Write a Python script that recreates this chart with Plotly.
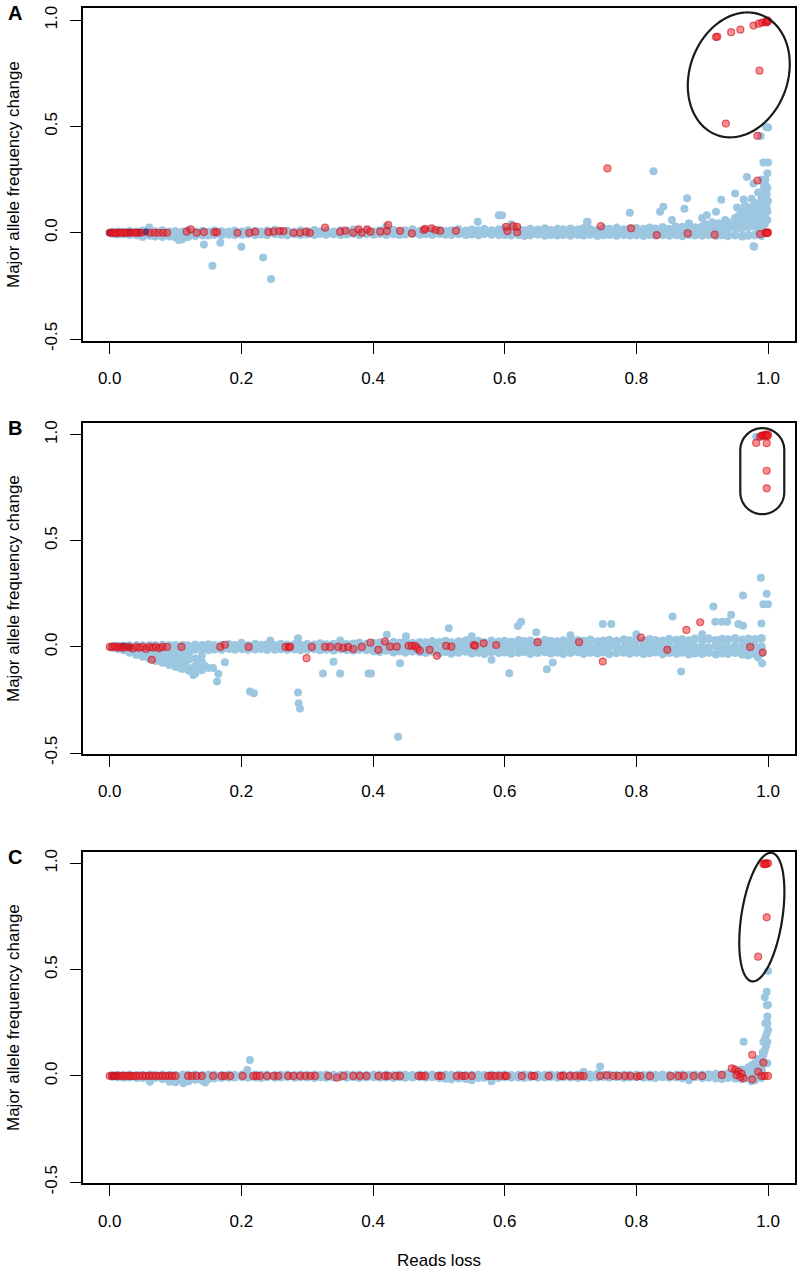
import math
import plotly.graph_objects as go

# ---------------- data ----------------
BAND_X = [0.004,0.012,0.021,0.030,0.041,0.050,0.061,0.069,0.080,0.091,
          0.100,0.111,0.119,0.130,0.141,0.150,0.159,0.170,0.181,0.190,
          0.201,0.210,0.221,0.230,0.239,0.251,0.260,0.270,0.281,0.290,
          0.300,0.311,0.320,0.329,0.340,0.351,0.360,0.370,0.379,0.390,
          0.401,0.410,0.420,0.431,0.440,0.449,0.460,0.471,0.480,0.490,
          0.501,0.510,0.519,0.530,0.541,0.550,0.560,0.569,0.580,0.591,
          0.600,0.610,0.621,0.630,0.639,0.650,0.661,0.670,0.680,0.689,
          0.700,0.711,0.720,0.730,0.741,0.750,0.759,0.770,0.781,0.790,
          0.800,0.811,0.820,0.829,0.840,0.850,0.861,0.870,0.880,0.889,
          0.900,0.910,0.921,0.930,0.939,0.950,0.961,0.970,0.980,0.990]

# Panel A
A_BAND_UP = [0.002,0.004,0.001,0.006,0.003,0.008,0.002,0.005,0.009,0.004,
             0.006,0.003,0.010,0.004,0.007,0.002,0.009,0.005,0.003,0.008,
             0.004,0.010,0.006,0.003,0.008,0.012,0.004,0.007,0.002,0.009,
             0.005,0.011,0.004,0.008,0.003,0.010,0.006,0.013,0.005,0.008,
             0.004,0.010,0.007,0.012,0.005,0.009,0.014,0.006,0.010,0.008,
             0.012,0.006,0.010,0.015,0.008,0.013,0.010,0.016,0.009,0.014,
             0.018,0.012,0.015,0.010,0.017,0.013,0.019,0.011,0.016,0.014,
             0.018,0.013,0.020,0.015,0.012,0.019,0.016,0.022,0.014,0.018,
             0.020,0.016,0.023,0.018,0.025,0.017,0.021,0.026,0.019,0.024,
             0.027,0.022,0.035,0.030,0.040,0.045,0.050,0.060,0.075,0.090]
A_BAND_MID = [0.000,-0.001,0.001,-0.002,0.000,-0.003,0.001,-0.004,-0.002,-0.006,
              -0.008,-0.010,-0.006,-0.004,-0.002,0.000,-0.001,0.001,-0.002,0.000,
              -0.001,0.002,0.000,-0.002,0.001,0.003,-0.001,0.000,-0.002,0.001,
              0.000,0.002,-0.001,0.001,-0.002,0.002,0.000,0.004,-0.001,0.001,
              -0.001,0.003,0.000,0.003,-0.002,0.002,0.004,0.000,0.002,0.001,
              0.004,0.000,0.002,0.005,0.001,0.004,0.002,0.006,0.001,0.004,
              0.005,0.002,0.004,0.000,0.006,0.003,0.005,0.001,0.004,0.003,
              0.005,0.002,0.006,0.004,0.000,0.005,0.003,0.007,0.002,0.005,
              0.006,0.003,0.008,0.005,0.009,0.004,0.007,0.010,0.005,0.008,
              0.010,0.008,0.015,0.012,0.020,0.022,0.025,0.030,0.040,0.050]
A_BAND_LO = [-0.003,-0.006,-0.005,-0.008,-0.010,-0.014,-0.012,-0.016,-0.018,-0.015,
             -0.020,-0.024,-0.018,-0.013,-0.010,-0.011,-0.008,-0.010,-0.007,-0.009,
             -0.007,-0.005,-0.009,-0.006,-0.008,-0.004,-0.007,-0.010,-0.005,-0.008,
             -0.006,-0.009,-0.004,-0.007,-0.005,-0.008,-0.006,-0.003,-0.009,-0.005,
             -0.007,-0.004,-0.008,-0.005,-0.009,-0.006,-0.003,-0.007,-0.005,-0.008,
             -0.004,-0.007,-0.009,-0.005,-0.008,-0.006,-0.010,-0.004,-0.007,-0.009,
             -0.008,-0.011,-0.009,-0.013,-0.010,-0.007,-0.012,-0.009,-0.011,-0.008,
             -0.012,-0.009,-0.011,-0.007,-0.013,-0.010,-0.008,-0.012,-0.009,-0.011,
             -0.010,-0.013,-0.008,-0.011,-0.009,-0.012,-0.010,-0.014,-0.008,-0.011,
             -0.012,-0.009,-0.013,-0.010,-0.014,-0.011,-0.015,-0.012,-0.010,-0.013]
A_BLUE_X = [0.143,0.168,0.156,0.200,0.233,0.245,0.060,0.105,0.110,0.050,
            0.559,0.591,0.596,0.725,0.726,0.790,0.826,0.836,0.841,0.854,
            0.873,0.877,0.907,0.921,0.929,0.950,0.953,0.963,0.968,0.978,
            0.993,0.978,0.979,0.940,0.950,0.960,0.965,0.970,0.975,0.980,
            0.985,0.990,0.995,0.998,0.999,0.996,0.999,0.992,0.998,0.985,
            0.975,0.960,0.990,0.999,0.980,0.970,0.993,0.993,1.000,0.997,
            1.000,0.989,0.420,0.610,0.880,
            0.905,0.915,0.925,0.935,0.945,0.955,0.960,0.965,0.970,0.975,
            0.980,0.985,0.990,0.995,0.998,0.999,0.992,0.997,0.990,1.000,
            0.985,0.995,0.930,0.950,0.880,0.860,0.900,0.965,0.975,0.985]
A_BLUE_Y = [-0.055,-0.047,-0.155,-0.066,-0.116,-0.218,0.025,-0.034,-0.030,-0.020,
            0.052,0.083,0.083,0.052,0.052,0.094,0.290,0.099,0.122,0.060,
            0.113,0.163,0.083,0.099,0.155,0.185,0.119,0.157,0.263,0.232,
            0.232,-0.063,-0.066,0.050,0.070,0.060,0.090,0.080,0.110,0.100,
            0.130,0.120,0.150,0.180,0.210,0.250,0.280,0.030,0.000,0.040,
            0.030,0.020,0.070,0.100,0.060,0.050,0.200,0.331,0.331,0.498,
            0.495,0.455,0.030,0.040,0.045,
            0.040,0.050,0.045,0.060,0.035,0.080,0.100,0.060,0.120,0.070,
            0.140,0.090,0.160,0.080,0.120,0.060,0.180,0.220,0.250,0.150,
            0.020,0.040,0.030,0.050,0.040,0.030,0.070,0.130,0.160,0.190]
A_NAVY_X = [0.000,0.030,0.045,0.055]
A_NAVY_Y = [0.000,0.002,0.002,0.003]
A_RED_X = [0.000,0.003,0.006,0.009,0.012,0.015,0.018,0.021,0.025,0.028,
           0.032,0.036,0.040,0.044,0.048,0.061,0.068,0.074,0.081,0.087,
           0.117,0.123,0.132,0.143,0.159,0.163,0.194,0.212,0.221,0.241,
           0.249,0.258,0.264,0.279,0.289,0.298,0.304,0.327,0.350,0.358,
           0.370,0.378,0.383,0.391,0.396,0.411,0.421,0.423,0.441,0.459,
           0.477,0.479,0.489,0.495,0.502,0.526,0.602,0.604,0.613,0.619,
           0.619,0.746,0.756,0.792,0.831,0.878,0.919,0.984,0.984,0.988,
           0.996,0.998,1.000,0.999,0.921,0.923,0.944,0.958,0.978,0.986,
           0.991,0.996,0.998,1.000,0.999,0.987,0.936]
A_RED_Y = [0.000,0.000,0.000,-0.002,0.000,0.001,0.000,-0.001,0.000,0.000,
           0.000,0.001,0.000,0.000,0.000,0.000,0.000,0.000,0.000,0.000,
           0.005,0.016,0.000,0.003,0.002,0.003,0.000,0.000,0.005,0.003,
           0.005,0.008,0.008,0.000,0.000,0.005,0.000,0.024,0.005,0.010,
           0.000,0.016,0.000,0.016,0.005,0.005,0.008,0.037,0.009,-0.003,
           0.013,0.019,0.021,0.013,0.009,0.009,0.028,0.008,0.031,0.028,
           0.002,0.031,0.303,0.021,-0.011,-0.003,-0.009,0.246,0.456,-0.006,
           0.000,0.000,0.002,-0.002,0.921,0.923,0.944,0.956,0.975,0.984,
           0.989,0.992,0.990,0.995,1.000,0.763,0.514]

# Panel B
B_BAND_UP = [0.001,0.003,0.004,0.005,0.006,0.005,0.007,0.006,0.008,0.007,
             0.006,0.008,0.005,0.009,0.007,0.010,0.006,0.008,0.011,0.007,
             0.009,0.006,0.012,0.008,0.010,0.007,0.013,0.009,0.011,0.008,
             0.012,0.009,0.015,0.010,0.013,0.017,0.011,0.014,0.018,0.012,
             0.016,0.020,0.014,0.022,0.018,0.024,0.017,0.021,0.019,0.025,
             0.021,0.027,0.019,0.024,0.029,0.022,0.026,0.020,0.028,0.023,
             0.027,0.022,0.030,0.025,0.028,0.023,0.031,0.026,0.024,0.029,
             0.025,0.030,0.027,0.033,0.024,0.028,0.031,0.026,0.034,0.029,
             0.032,0.027,0.035,0.030,0.028,0.036,0.031,0.034,0.029,0.037,
             0.033,0.038,0.030,0.036,0.034,0.040,0.032,0.037,0.035,0.040]
B_BAND_MID = [0.000,0.001,-0.002,0.002,-0.001,0.000,-0.003,0.001,-0.002,0.002,
              0.000,-0.002,0.001,-0.001,0.002,0.000,-0.002,0.001,-0.001,0.002,
              -0.001,0.002,0.000,-0.002,0.001,-0.001,0.003,0.000,-0.002,0.001,
              0.002,-0.001,0.000,0.003,-0.002,0.001,-0.001,0.002,0.000,-0.003,
              0.001,-0.002,0.003,0.000,-0.001,0.002,-0.003,0.001,0.000,-0.002,
              0.004,-0.003,0.001,0.005,-0.004,0.002,-0.001,0.004,-0.005,0.003,
              -0.002,0.005,0.000,-0.004,0.003,-0.001,0.004,-0.005,0.002,0.000,
              0.003,-0.004,0.005,-0.002,0.001,-0.005,0.004,0.000,-0.003,0.002,
              -0.004,0.003,0.000,0.005,-0.002,0.004,-0.005,0.001,0.003,-0.003,
              0.002,-0.004,0.005,0.000,-0.003,0.004,-0.002,0.003,-0.001,0.001]
B_BAND_LO = [-0.002,-0.008,-0.014,-0.020,-0.026,-0.032,-0.038,-0.044,-0.050,-0.056,
             -0.010,-0.012,-0.008,-0.011,-0.009,-0.013,-0.010,-0.012,-0.008,-0.011,
             -0.009,-0.012,-0.010,-0.008,-0.013,-0.011,-0.009,-0.012,-0.010,-0.014,
             -0.012,-0.009,-0.014,-0.011,-0.015,-0.010,-0.013,-0.016,-0.012,-0.014,
             -0.018,-0.022,-0.016,-0.024,-0.019,-0.025,-0.020,-0.023,-0.027,-0.021,
             -0.028,-0.022,-0.030,-0.025,-0.021,-0.029,-0.026,-0.032,-0.023,-0.027,
             -0.024,-0.030,-0.026,-0.022,-0.031,-0.027,-0.023,-0.029,-0.025,-0.032,
             -0.027,-0.023,-0.031,-0.026,-0.029,-0.024,-0.033,-0.028,-0.025,-0.030,
             -0.026,-0.032,-0.028,-0.024,-0.033,-0.027,-0.030,-0.025,-0.034,-0.029,
             -0.031,-0.026,-0.034,-0.029,-0.032,-0.027,-0.035,-0.030,-0.033,-0.028]
B_BLUE_X = [0.030,0.040,0.050,0.060,0.070,0.080,0.090,0.100,0.110,0.120,
            0.130,0.060,0.080,0.100,0.120,0.140,0.090,0.110,0.130,0.150,
            0.120,0.140,0.127,0.107,0.163,0.157,0.165,0.175,0.213,0.219,
            0.286,0.287,0.289,0.324,0.350,0.340,0.393,0.397,0.421,0.286,
            0.244,0.438,0.441,0.515,0.607,0.664,0.673,0.620,0.625,0.648,
            0.749,0.762,0.855,0.868,0.917,0.944,0.920,0.930,0.938,0.955,
            0.962,0.990,0.962,0.989,0.998,0.993,1.000,0.991,0.982,0.985,
            0.970,0.900,0.800,0.700,0.550,0.580,0.450,0.350,0.200,
            0.020,0.035,0.045,0.055,0.065,0.075,0.085,0.095,0.105,0.115,
            0.125,0.070,0.090,0.110,0.130,0.100,0.120,0.140,0.145,0.135,
            0.115,0.080]
B_BLUE_Y = [-0.028,-0.038,-0.046,-0.056,-0.066,-0.075,-0.085,-0.095,-0.104,-0.113,
            -0.125,-0.025,-0.035,-0.050,-0.060,-0.070,-0.060,-0.075,-0.090,-0.100,
            -0.030,-0.040,-0.132,-0.100,-0.163,-0.100,-0.127,-0.072,-0.210,-0.219,
            -0.215,-0.266,-0.290,-0.125,-0.125,-0.070,-0.125,-0.125,0.057,0.041,
            0.030,-0.423,-0.077,0.088,-0.124,-0.105,-0.074,0.099,0.119,0.069,
            0.108,0.108,0.143,-0.116,0.190,0.151,0.119,0.119,0.119,0.108,
            0.100,0.110,0.242,0.326,0.250,0.201,0.201,-0.077,0.990,-0.050,
            -0.040,0.060,0.060,0.055,0.050,-0.060,0.050,0.030,0.020,
            -0.012,-0.020,-0.030,-0.040,-0.045,-0.050,-0.060,-0.070,-0.080,-0.090,
            -0.100,-0.020,-0.030,-0.045,-0.055,-0.020,-0.030,-0.110,-0.090,-0.080,
            -0.065,-0.020]
B_NAVY_X = [0.020,0.030]
B_NAVY_Y = [0.003,0.000]
B_RED_X = [0.000,0.004,0.008,0.012,0.016,0.020,0.025,0.030,0.035,0.040,
           0.045,0.050,0.055,0.060,0.065,0.070,0.075,0.080,0.087,0.064,
           0.109,0.168,0.175,0.211,0.267,0.272,0.274,0.299,0.307,0.327,
           0.335,0.347,0.355,0.362,0.370,0.383,0.396,0.408,0.418,0.426,
           0.436,0.454,0.459,0.464,0.467,0.471,0.486,0.497,0.511,0.519,
           0.553,0.555,0.568,0.587,0.650,0.713,0.749,0.807,0.847,0.876,
           0.897,0.973,0.992,0.988,0.990,0.992,0.994,0.996,0.998,1.000,
           0.999,0.982,0.998,0.998,0.998]
B_RED_Y = [0.000,0.000,0.002,-0.003,0.000,-0.005,0.000,-0.002,-0.008,0.000,
           -0.004,0.000,-0.010,0.000,-0.003,0.000,-0.006,0.000,0.000,-0.061,
           0.000,0.000,0.010,0.000,0.000,0.000,0.000,-0.053,0.000,0.000,
           0.000,0.000,-0.005,0.000,-0.010,0.000,0.020,-0.014,0.025,0.001,
           0.001,0.005,0.005,0.005,-0.006,-0.017,-0.014,-0.042,0.005,0.001,
           0.009,0.005,0.017,0.009,0.022,0.022,-0.069,0.044,-0.014,0.080,
           0.116,0.000,-0.027,0.990,0.995,0.997,0.995,1.000,0.998,1.000,
           0.993,0.961,0.960,0.830,0.747]

# Panel C
C_BAND_UP = [0.001,0.003,0.002,0.004,0.002,0.003,0.005,0.002,0.004,0.003,
             0.002,0.004,0.003,0.005,0.002,0.004,0.003,0.002,0.005,0.003,
             0.004,0.002,0.005,0.003,0.004,0.002,0.003,0.005,0.002,0.004,
             0.003,0.005,0.002,0.004,0.003,0.002,0.005,0.003,0.004,0.002,
             0.004,0.003,0.005,0.002,0.004,0.003,0.002,0.005,0.003,0.004,
             0.002,0.004,0.003,0.005,0.002,0.003,0.004,0.002,0.005,0.003,
             0.004,0.002,0.003,0.005,0.002,0.004,0.003,0.005,0.002,0.004,
             0.003,0.005,0.002,0.004,0.008,0.003,0.005,0.002,0.004,0.003,
             0.005,0.002,0.004,0.003,0.005,0.002,0.004,0.006,0.003,0.005,
             0.004,0.006,0.008,0.005,0.010,0.015,0.020,0.030,0.040,0.060]
C_BAND_MID = [0.000,0.000,-0.002,0.000,-0.003,-0.002,-0.004,-0.003,-0.005,-0.004,
              -0.006,-0.008,-0.010,-0.007,-0.009,-0.005,-0.003,-0.002,-0.001,-0.001,
              0.000,-0.002,0.000,-0.001,0.000,-0.002,-0.001,0.001,-0.002,0.000,
              -0.001,0.000,-0.002,0.000,-0.001,0.001,-0.002,0.000,-0.001,-0.002,
              0.000,-0.001,0.000,-0.002,0.000,-0.001,0.001,0.000,-0.002,0.000,
              -0.003,-0.005,-0.006,-0.004,-0.005,-0.003,-0.002,-0.001,0.000,-0.002,
              0.000,-0.001,0.000,-0.002,0.000,-0.001,0.000,0.001,-0.002,0.000,
              -0.001,0.000,-0.001,0.000,0.000,0.001,-0.002,0.000,-0.001,0.000,
              0.000,-0.002,0.000,-0.003,0.000,-0.001,0.000,-0.003,-0.001,0.000,
              -0.002,0.000,-0.001,-0.004,0.000,0.003,0.006,0.010,0.015,0.025]
C_BAND_LO = [-0.002,-0.004,-0.006,-0.005,-0.008,-0.007,-0.010,-0.008,-0.012,-0.010,
             -0.014,-0.018,-0.022,-0.016,-0.020,-0.012,-0.009,-0.007,-0.006,-0.005,
             -0.004,-0.006,-0.005,-0.007,-0.004,-0.006,-0.005,-0.003,-0.006,-0.004,
             -0.005,-0.007,-0.004,-0.006,-0.005,-0.003,-0.006,-0.004,-0.007,-0.005,
             -0.004,-0.006,-0.005,-0.007,-0.004,-0.006,-0.005,-0.003,-0.006,-0.004,
             -0.008,-0.011,-0.014,-0.010,-0.012,-0.009,-0.007,-0.006,-0.005,-0.007,
             -0.004,-0.006,-0.005,-0.007,-0.004,-0.006,-0.005,-0.003,-0.006,-0.004,
             -0.005,-0.007,-0.004,-0.006,-0.005,-0.003,-0.006,-0.004,-0.007,-0.005,
             -0.004,-0.006,-0.005,-0.008,-0.004,-0.006,-0.005,-0.009,-0.006,-0.004,
             -0.008,-0.006,-0.010,-0.012,-0.008,-0.010,-0.006,-0.009,-0.012,-0.008]
C_BLUE_X = [0.950,0.960,0.970,0.975,0.980,0.985,0.990,0.993,0.995,0.997,
            0.999,0.993,0.998,1.000,0.996,0.999,0.998,1.000,0.995,0.998,
            1.000,0.963,0.970,0.980,0.990,0.999,0.990,0.980,0.960,0.975,
            0.745,0.213,0.209,0.112,0.145,0.061,0.091,0.120,0.100,0.550,
            0.580,0.720,0.880,0.985,0.992,0.996,0.999,0.988,0.994]
C_BLUE_Y = [0.020,0.030,0.040,0.050,0.060,0.050,0.080,0.100,0.120,0.140,
            0.160,0.161,0.200,0.216,0.248,0.248,0.334,0.334,0.370,0.396,
            0.494,0.161,0.020,0.030,0.040,0.060,0.000,-0.020,-0.015,-0.025,
            0.044,0.075,0.028,-0.034,-0.031,-0.027,-0.027,-0.025,-0.030,-0.020,
            -0.025,0.020,-0.020,0.080,0.110,0.180,0.280,0.030,0.060]
C_NAVY_X = [0.005,0.010]
C_NAVY_Y = [0.000,0.000]
C_RED_X = [0.000,0.004,0.008,0.012,0.016,0.020,0.024,0.028,0.032,0.036,
           0.040,0.045,0.050,0.055,0.060,0.065,0.070,0.075,0.080,0.085,
           0.090,0.095,0.100,0.119,0.125,0.132,0.140,0.157,0.170,0.175,
           0.183,0.202,0.218,0.223,0.228,0.239,0.249,0.256,0.271,0.279,
           0.289,0.297,0.305,0.312,0.332,0.345,0.355,0.370,0.380,0.390,
           0.408,0.418,0.423,0.434,0.441,0.469,0.474,0.479,0.499,0.504,
           0.527,0.535,0.540,0.550,0.575,0.580,0.586,0.593,0.600,0.603,
           0.626,0.641,0.645,0.667,0.685,0.689,0.699,0.707,0.715,0.720,
           0.745,0.755,0.765,0.773,0.783,0.791,0.801,0.806,0.821,0.852,
           0.864,0.872,0.887,0.900,0.945,0.950,0.955,0.960,0.963,0.952,
           0.958,0.976,0.976,0.993,0.990,0.995,1.000,0.930,0.985,0.993,
           0.996,0.998,1.000,0.995,0.998,0.985]
C_RED_Y = [0.000,0.000,0.000,0.000,0.000,0.000,0.000,0.000,0.000,0.000,
           0.000,0.000,0.000,0.000,0.000,0.000,0.000,0.000,0.000,0.000,
           0.000,0.000,0.000,0.000,0.000,0.000,0.000,0.000,0.000,0.000,
           0.000,0.000,0.000,0.000,0.000,0.000,0.000,0.000,0.000,0.000,
           0.000,0.000,0.000,0.000,0.000,-0.008,0.000,0.000,0.000,0.000,
           0.000,0.000,0.000,0.000,0.000,0.000,0.000,0.000,0.000,0.000,
           0.000,0.000,0.000,0.000,0.000,0.000,0.000,0.000,0.000,0.000,
           0.000,0.000,0.000,0.000,0.000,0.000,0.000,0.000,0.000,0.000,
           0.000,0.003,0.000,0.000,0.000,0.000,-0.003,0.000,0.000,0.000,
           0.000,0.000,0.000,0.000,0.036,0.030,0.020,0.010,-0.011,0.005,
           -0.005,-0.016,0.099,0.063,0.000,0.000,0.000,0.005,0.020,0.997,
           1.000,0.998,1.000,0.995,0.746,0.561]

X_TICKS = [0.0, 0.2, 0.4, 0.6, 0.8, 1.0]
X_TICKTEXT = ["0.0", "0.2", "0.4", "0.6", "0.8", "1.0"]
Y_TICKS = [-0.5, 0.0, 0.5, 1.0]
Y_TICKTEXT = ["-0.5", "0.0", "0.5", "1.0"]
PANEL_LETTERS = ["A", "B", "C"]
Y_TITLE = "Major allele frequency change"
X_TITLE = "Reads loss"

# ---------------- layout geometry (pixels) ----------------
W, H = 800, 1271
BOX_L, BOX_R = 83, 795
X_RANGE = [-0.0406, 1.041]
PANELS = [
    dict(top=8.0, bottom=341.0, yr=[-0.5094, 1.0578],
         band_rows=[A_BAND_UP, A_BAND_MID, A_BAND_LO], bx=A_BLUE_X, by=A_BLUE_Y,
         nx=A_NAVY_X, ny=A_NAVY_Y, rx=A_RED_X, ry=A_RED_Y,
         mark=dict(kind="ellipse", cx=0.9556, cy=0.743, a=64, b=49, theta=20)),
    dict(top=423.0, bottom=754.0, yr=[-0.5047, 1.055],
         band_rows=[B_BAND_UP, B_BAND_MID, B_BAND_LO], bx=B_BLUE_X, by=B_BLUE_Y,
         nx=B_NAVY_X, ny=B_NAVY_Y, rx=B_RED_X, ry=B_RED_Y,
         mark=dict(kind="stadium", cx=0.9913, cy=0.828, hw=22, hh=43)),
    dict(top=851.7, bottom=1183.3, yr=[-0.5047, 1.0545],
         band_rows=[C_BAND_UP, C_BAND_MID, C_BAND_LO], bx=C_BLUE_X, by=C_BLUE_Y,
         nx=C_NAVY_X, ny=C_NAVY_Y, rx=C_RED_X, ry=C_RED_Y,
         mark=dict(kind="ellipse", cx=0.9906, cy=0.747, a=65, b=20.5, theta=8.8)),
]

BLUE = "#9dc7e0"
NAVY = "#2b4a8a"
RED_FILL = "rgba(250,25,30,0.5)"
RED_LINE = "rgba(200,15,30,0.6)"
FONT = "Liberation Sans, Arial, Helvetica, sans-serif"

fig = go.Figure()


def ellipse_path(cx, cy, a, b, theta, sx, sy, n=160):
    th = math.radians(theta)
    parts = []
    for i in range(n + 1):
        t = 2 * math.pi * i / n
        dx = a * math.cos(t) * math.sin(th) + b * math.sin(t) * math.cos(th)
        dy = -a * math.cos(t) * math.cos(th) + b * math.sin(t) * math.sin(th)
        parts.append((cx + dx / sx, cy - dy / sy))
    return "M " + " L ".join(f"{x:.5f},{y:.5f}" for x, y in parts) + " Z"


def stadium_path(cx, cy, hw, hh, sx, sy, n=60):
    r = hw
    pts = []
    for i in range(n + 1):
        t = math.pi + math.pi * i / n
        pts.append((r * math.cos(t), -(hh - r) + r * math.sin(t)))
    for i in range(n + 1):
        t = math.pi * i / n
        pts.append((r * math.cos(t), (hh - r) + r * math.sin(t)))
    return "M " + " L ".join(f"{cx + dx / sx:.5f},{cy - dy / sy:.5f}" for dx, dy in pts) + " Z"


shapes = []
annotations = []
for i, p in enumerate(PANELS):
    k = "" if i == 0 else str(i + 1)
    xa, ya = "x" + k, "y" + k
    bxs, bys = [], []
    for row in p["band_rows"]:
        for x, y in zip(BAND_X, row):
            bxs.append(x)
            bys.append(y)
    fig.add_trace(go.Scatter(x=bxs, y=bys, mode="markers", xaxis=xa, yaxis=ya,
                             marker=dict(size=9, color=BLUE, line=dict(width=0)),
                             showlegend=False, hoverinfo="skip"))
    fig.add_trace(go.Scatter(x=p["bx"], y=p["by"], mode="markers", xaxis=xa, yaxis=ya,
                             marker=dict(size=8, color=BLUE, line=dict(width=0)),
                             showlegend=False, hoverinfo="skip"))
    fig.add_trace(go.Scatter(x=p["nx"], y=p["ny"], mode="markers", xaxis=xa, yaxis=ya,
                             marker=dict(size=7, color=NAVY, line=dict(width=0)),
                             showlegend=False, hoverinfo="skip"))
    fig.add_trace(go.Scatter(x=p["rx"], y=p["ry"], mode="markers", xaxis=xa, yaxis=ya,
                             marker=dict(size=7, color=RED_FILL,
                                         line=dict(width=1.2, color=RED_LINE)),
                             showlegend=False, hoverinfo="skip"))

    dom_y = [(H - p["bottom"]) / H, (H - p["top"]) / H]
    fig.layout["xaxis" + k] = dict(
        domain=[BOX_L / W, BOX_R / W], range=X_RANGE, anchor=ya, automargin=False,
        showline=True, mirror=True, linecolor="black", linewidth=1.6,
        ticks="outside", ticklen=11, tickwidth=1.4, tickcolor="black",
        tickvals=X_TICKS, ticktext=X_TICKTEXT, showgrid=False, zeroline=False,
        tickfont=dict(family=FONT, size=17, color="black"), ticklabelstandoff=10)
    fig.layout["yaxis" + k] = dict(
        domain=dom_y, range=p["yr"], anchor=xa, automargin=False,
        showline=True, mirror=True, linecolor="black", linewidth=1.6,
        ticks="outside", ticklen=11, tickwidth=1.4, tickcolor="black",
        tickvals=Y_TICKS, ticktext=Y_TICKTEXT, tickangle=-90,
        showgrid=False, zeroline=False,
        tickfont=dict(family=FONT, size=17, color="black"), ticklabelstandoff=6)

    sx = (BOX_R - BOX_L) / (X_RANGE[1] - X_RANGE[0])
    sy = (p["bottom"] - p["top"]) / (p["yr"][1] - p["yr"][0])
    m = p["mark"]
    if m["kind"] == "ellipse":
        path = ellipse_path(m["cx"], m["cy"], m["a"], m["b"], m["theta"], sx, sy)
    else:
        path = stadium_path(m["cx"], m["cy"], m["hw"], m["hh"], sx, sy)
    shapes.append(dict(type="path", path=path, xref=xa, yref=ya,
                       line=dict(color="#1a1a1a", width=2.2), layer="above"))

    annotations.append(dict(text="<b>" + PANEL_LETTERS[i] + "</b>", xref="paper", yref="paper",
                            x=15 / W, y=(H - (p["top"] + 5)) / H, xanchor="center", yanchor="middle",
                            showarrow=False, font=dict(family=FONT, size=20, color="black")))
    annotations.append(dict(text=Y_TITLE, xref="paper", yref="paper", textangle=-90,
                            x=13.5 / W, y=(H - (p["top"] + p["bottom"]) / 2) / H,
                            xanchor="center", yanchor="middle", showarrow=False,
                            font=dict(family=FONT, size=17, color="black")))

annotations.append(dict(text=X_TITLE, xref="paper", yref="paper",
                        x=(BOX_L + BOX_R) / 2 / W, y=(H - 1260) / H,
                        xanchor="center", yanchor="middle", showarrow=False,
                        font=dict(family=FONT, size=17, color="black")))

fig.update_layout(width=W, height=H, margin=dict(l=0, r=0, t=0, b=0),
                  paper_bgcolor="white", plot_bgcolor="white",
                  shapes=shapes, annotations=annotations,
                  font=dict(family=FONT, size=17, color="black"))

fig.write_html("out.html", config={"displayModeBar": False},
               post_script="document.body.style.margin='0';document.body.style.padding='0';")
